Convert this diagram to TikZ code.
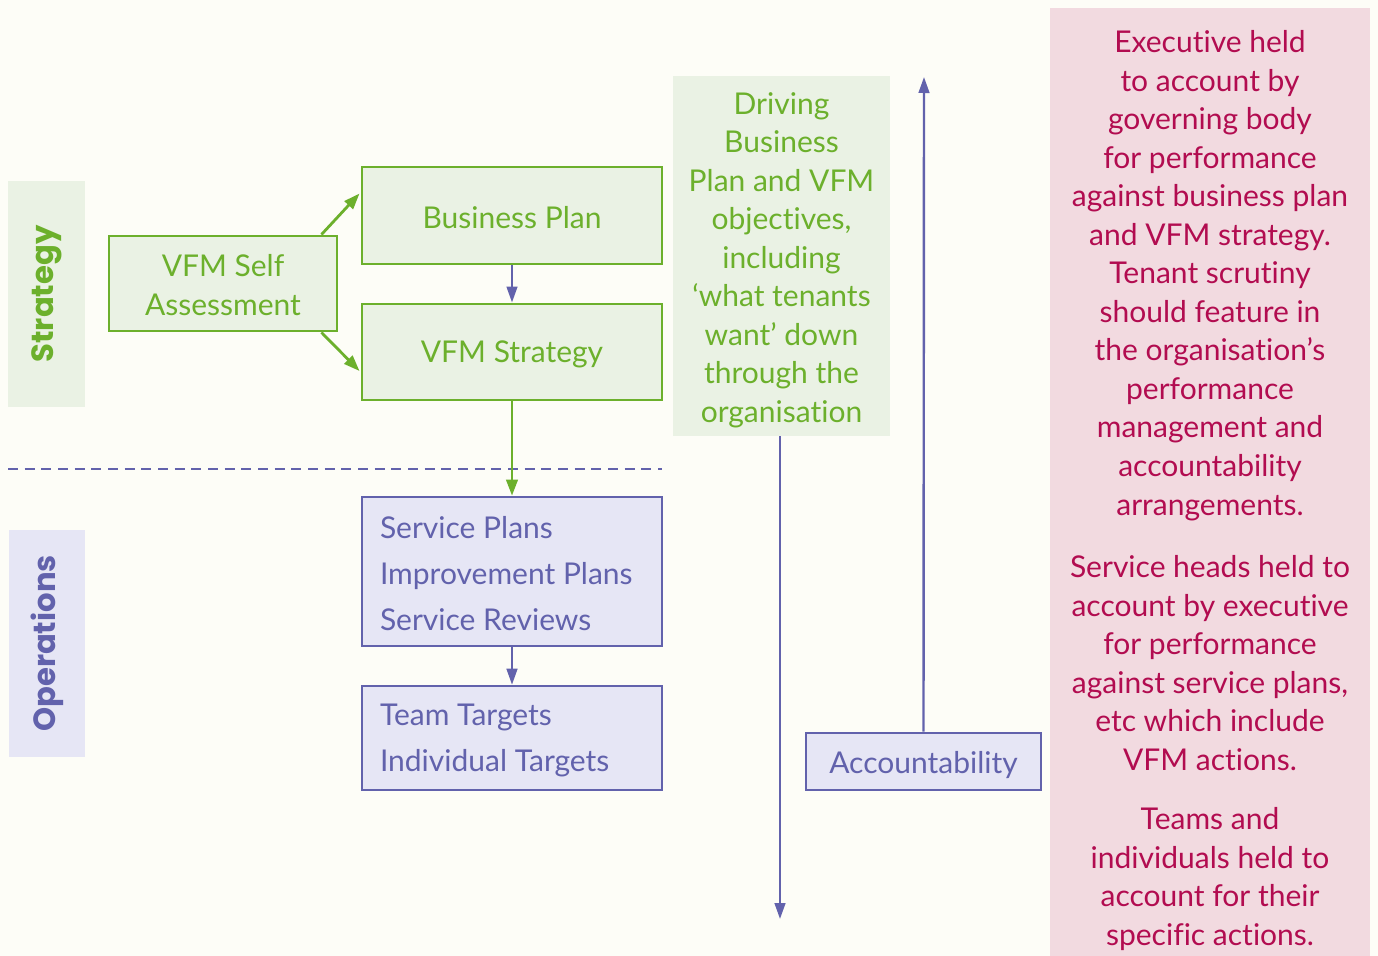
\documentclass[tikz,border=0pt]{standalone}
\usepackage{fontspec}
\setmainfont{Lato}[Ligatures=NoCommon]
\newfontfamily\labfont{Poppins}
\usetikzlibrary{arrows.meta,calc}
\definecolor{bg}{RGB}{253,253,247}
\definecolor{grn}{RGB}{108,176,44}
\definecolor{grnfill}{RGB}{234,242,228}
\definecolor{pur}{RGB}{98,98,172}
\definecolor{purfill}{RGB}{230,230,245}
\definecolor{pinkfill}{RGB}{242,218,224}
\definecolor{crim}{RGB}{178,12,80}
\newcommand{\lowr}[2]{\raisebox{-#1}[\height][\depth]{#2}}
\begin{document}
\begin{tikzpicture}[x=0.75pt,y=-0.75pt,
  txt/.style={font=\fontsize{22.5}{28.9}\selectfont},
  gbox/.style={txt,draw=grn,fill=grnfill,line width=2.2pt,text=grn,align=center,inner sep=0pt},
  pbox/.style={txt,draw=pur,fill=purfill,line width=1.9pt,text=pur,inner sep=0pt},
  lab/.style={font=\labfont\bfseries\fontsize{23}{26}\selectfont,rotate=90,inner sep=0pt},
  garrow/.style={draw=grn,line width=2.1pt,-{Triangle[length=12pt,width=8.5pt]}},
  parrow/.style={draw=pur,line width=1.8pt,-{Triangle[length=12pt,width=8pt]}},
  pinktxt/.style={txt,text=crim,align=center,inner sep=0pt}
]
\fill[bg] (0,0) rectangle (1378,956);
\useasboundingbox (0,0) rectangle (1378,956);

% side labels
\node[lab,fill=grnfill,text=grn,minimum width=169.5pt,minimum height=57.75pt] (strat) at (46.5,294) {Strategy};
\node[lab,fill=purfill,text=pur,minimum width=170.25pt,minimum height=57pt] (ops) at (47,643.5) {Operations};

% strategy boxes
\node[gbox,minimum width=171pt,minimum height=71.25pt] (self) at (223,283.5) {\lowr{1.2pt}{\parbox{160pt}{\centering VFM Self\\Assessment}}};
\node[gbox,minimum width=225pt,minimum height=72.75pt] (bplan) at (512,215.5) {\lowr{1.5pt}{Business Plan}};
\node[gbox,minimum width=225pt,minimum height=72pt] (vstrat) at (512,352) {\lowr{2pt}{VFM Strategy}};

% operations boxes
\node[pbox,minimum width=225pt,minimum height=111.75pt] (splans) at (512,571.5)
  {\lowr{1.5pt}{\parbox{198pt}{\fontsize{22.5}{34.5}\selectfont Service Plans\\Improvement Plans\\Service Reviews}}};
\node[pbox,minimum width=225pt,minimum height=78pt] (targets) at (512,738)
  {\lowr{2.2pt}{\parbox{198pt}{\fontsize{22.5}{34.5}\selectfont Team Targets\\Individual Targets}}};

% driving box
\node[txt,fill=grnfill,text=grn,inner sep=0pt,minimum width=162.75pt,minimum height=270pt] (drive) at (781.5,256)
  {\lowr{3pt}{\parbox{160pt}{\centering Driving\\Business\\Plan and VFM\\objectives,\\including\\‘what tenants\\want’ down\\through the\\organisation}}};

% accountability
\node[pbox,minimum width=176.25pt,minimum height=42.75pt] (acct) at (923.5,761.5) {\lowr{3pt}{Accountability}};

% pink panel
\node[fill=pinkfill,minimum width=240pt,minimum height=711pt,inner sep=0pt] (pink) at (1210,482) {};
\node[pinktxt] (p1) at (1210,275.5) {Executive held\\to account by\\governing body\\for performance\\against business plan\\and VFM strategy.\\Tenant scrutiny\\should feature in\\the organisation’s\\performance\\management and\\accountability\\arrangements.};
\node[pinktxt] (p2) at (1210,663) {Service heads held to\\account by executive\\for performance\\against service plans,\\etc which include\\VFM actions.};
\node[pinktxt] (p3) at (1210,879) {Teams and\\individuals held to\\account for their\\specific actions.};

% dashed divider
\draw[pur,line width=1.6pt,dash pattern=on 7.5pt off 5pt] (8,469) -- (662,469);

% connectors
\draw[garrow] ($(self.north east)+(-17,0)$) -- ($(bplan.west)+(-1,-22)$);
\draw[garrow] ($(self.south east)+(-17,0)$) -- ($(vstrat.west)+(-1,19)$);
\draw[parrow] (bplan.south) -- (vstrat.north);
\draw[garrow] (vstrat.south) -- (splans.north);
\draw[parrow] (splans.south) -- (targets.north);
\coordinate (downend) at (780,919);
\coordinate (upend) at (924,77);
\draw[parrow] (drive.south -| downend) -- (downend);
\draw[parrow] (acct.north) -- (upend);
\end{tikzpicture}
\end{document}
